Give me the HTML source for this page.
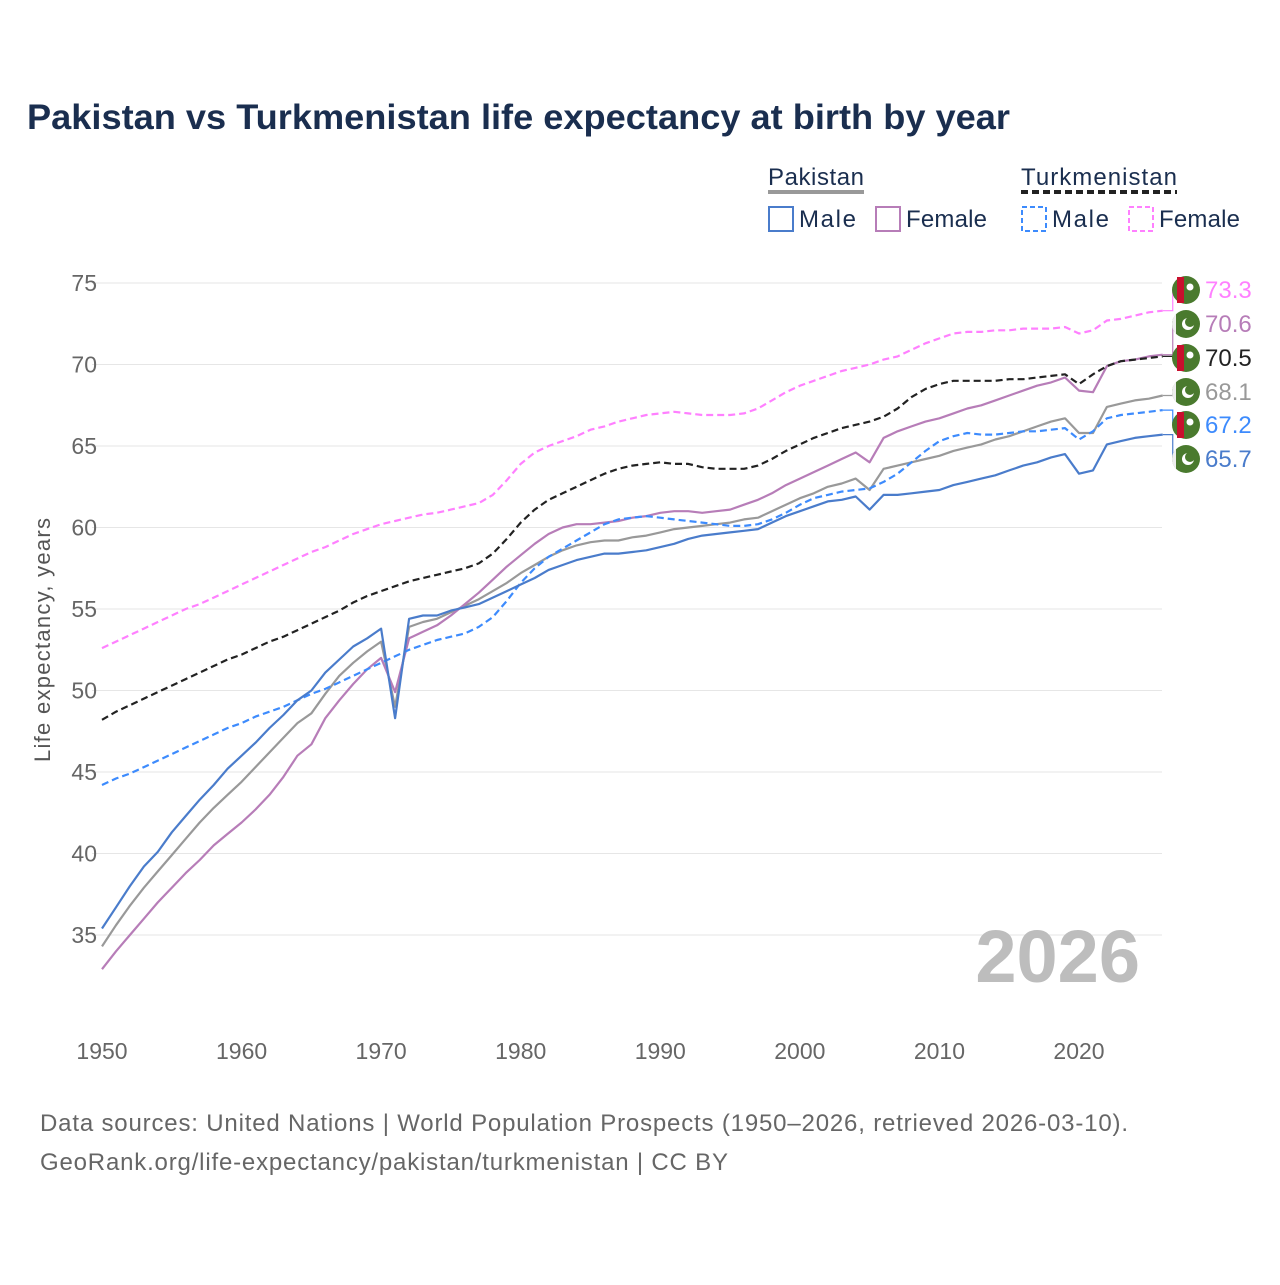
<!DOCTYPE html>
<html><head><meta charset="utf-8">
<style>
body{margin:0;background:#fff;font-family:"Liberation Sans",sans-serif;}
svg text{font-family:"Liberation Sans",sans-serif;}
</style></head>
<body>
<svg id="chart" width="1280" height="1280" viewBox="0 0 1280 1280" xmlns="http://www.w3.org/2000/svg">
<rect width="1280" height="1280" fill="#fff"/>
<text x="27" y="129" font-size="35" font-weight="bold" fill="#1a2e4f" textLength="983" lengthAdjust="spacingAndGlyphs">Pakistan vs Turkmenistan life expectancy at birth by year</text>
<g font-size="24" fill="#1a2e4f">
<text x="768" y="185" fill="#1a2e4f" textLength="96">Pakistan</text>
<line x1="768" y1="192" x2="864" y2="192" stroke="#999" stroke-width="4"/>
<rect x="769" y="207" width="24" height="24" fill="none" stroke="#4a7ccb" stroke-width="2"/>
<text x="799" y="227" fill="#1a2e4f" textLength="57">Male</text>
<rect x="876" y="207" width="24" height="24" fill="none" stroke="#b77db8" stroke-width="2"/>
<text x="906" y="227" fill="#1a2e4f" textLength="81">Female</text>
<text x="1021" y="185" fill="#1a2e4f" textLength="156">Turkmenistan</text>
<line x1="1021" y1="192" x2="1177" y2="192" stroke="#222" stroke-width="4" stroke-dasharray="7,4"/>
<rect x="1022" y="207" width="24" height="24" fill="none" stroke="#3d8bfd" stroke-width="2" stroke-dasharray="5,3"/>
<text x="1052" y="227" fill="#1a2e4f" textLength="57">Male</text>
<rect x="1129" y="207" width="24" height="24" fill="none" stroke="#ff80ff" stroke-width="2" stroke-dasharray="5,3"/>
<text x="1159" y="227" fill="#1a2e4f" textLength="81">Female</text>
</g>
<g id="grid"></g>
<g id="xaxis"></g>
<g id="lines"></g>
<g id="labels"></g>
<text transform="translate(50,640) rotate(-90)" text-anchor="middle" font-size="22" fill="#555" textLength="244">Life expectancy, years</text>
<text x="1140" y="982" text-anchor="end" font-size="74" font-weight="bold" fill="#bdbdbd">2026</text>
<text x="40" y="1131" font-size="24" fill="#666" textLength="1088">Data sources: United Nations | World Population Prospects (1950–2026, retrieved 2026-03-10).</text>
<text x="40" y="1170" font-size="24" fill="#666" textLength="688">GeoRank.org/life-expectancy/pakistan/turkmenistan | CC BY</text>
</svg>
<script>
const startYear = 1950;
const yTicks = [35,40,45,50,55,60,65,70,75];
const xTicks = [1950,1960,1970,1980,1990,2000,2010,2020];
const pakMale = [35.4,36.7,38.0,39.2,40.1,41.3,42.3,43.3,44.2,45.2,46.0,46.8,47.7,48.5,49.4,50.0,51.1,51.9,52.7,53.2,53.8,48.3,54.4,54.6,54.6,54.9,55.1,55.3,55.7,56.1,56.5,56.9,57.4,57.7,58.0,58.2,58.4,58.4,58.5,58.6,58.8,59.0,59.3,59.5,59.6,59.7,59.8,59.9,60.3,60.7,61.0,61.3,61.6,61.7,61.9,61.1,62.0,62.0,62.1,62.2,62.3,62.6,62.8,63.0,63.2,63.5,63.8,64.0,64.3,64.5,63.3,63.5,65.1,65.3,65.5,65.6,65.7];
const pakBoth = [34.3,35.6,36.8,37.9,38.9,39.9,40.9,41.9,42.8,43.6,44.4,45.3,46.2,47.1,48.0,48.6,49.8,50.9,51.7,52.4,53.0,49.0,53.9,54.2,54.4,54.8,55.2,55.6,56.1,56.6,57.2,57.7,58.2,58.6,58.9,59.1,59.2,59.2,59.4,59.5,59.7,59.9,60.0,60.1,60.2,60.3,60.5,60.6,61.0,61.4,61.8,62.1,62.5,62.7,63.0,62.3,63.6,63.8,64.0,64.2,64.4,64.7,64.9,65.1,65.4,65.6,65.9,66.2,66.5,66.7,65.8,65.8,67.4,67.6,67.8,67.9,68.1];
const pakFemale = [32.9,34.0,35.0,36.0,37.0,37.9,38.8,39.6,40.5,41.2,41.9,42.7,43.6,44.7,46.0,46.7,48.3,49.4,50.4,51.3,52.0,49.9,53.2,53.6,54.0,54.6,55.3,56.0,56.8,57.6,58.3,59.0,59.6,60.0,60.2,60.2,60.3,60.4,60.6,60.7,60.9,61.0,61.0,60.9,61.0,61.1,61.4,61.7,62.1,62.6,63.0,63.4,63.8,64.2,64.6,64.0,65.5,65.9,66.2,66.5,66.7,67.0,67.3,67.5,67.8,68.1,68.4,68.7,68.9,69.2,68.4,68.3,69.9,70.2,70.3,70.5,70.6];
const tkmBoth = [48.2,48.7,49.1,49.5,49.9,50.3,50.7,51.1,51.5,51.9,52.2,52.6,53.0,53.3,53.7,54.1,54.5,54.9,55.4,55.8,56.1,56.4,56.7,56.9,57.1,57.3,57.5,57.8,58.4,59.3,60.3,61.1,61.7,62.1,62.5,62.9,63.3,63.6,63.8,63.9,64.0,63.9,63.9,63.7,63.6,63.6,63.6,63.8,64.2,64.7,65.1,65.5,65.8,66.1,66.3,66.5,66.8,67.3,68.0,68.5,68.8,69.0,69.0,69.0,69.0,69.1,69.1,69.2,69.3,69.4,68.8,69.4,69.9,70.2,70.3,70.4,70.5];
const tkmMale = [44.2,44.6,44.9,45.3,45.7,46.1,46.5,46.9,47.3,47.7,48.0,48.4,48.7,49.0,49.4,49.8,50.1,50.5,50.9,51.3,51.7,52.1,52.5,52.8,53.1,53.3,53.5,53.9,54.5,55.5,56.6,57.5,58.2,58.7,59.2,59.7,60.2,60.5,60.6,60.7,60.6,60.5,60.4,60.3,60.2,60.1,60.1,60.2,60.5,60.9,61.4,61.8,62.0,62.2,62.3,62.4,62.8,63.3,64.0,64.7,65.3,65.6,65.8,65.7,65.7,65.8,65.9,65.9,66.0,66.1,65.4,65.9,66.7,66.9,67.0,67.1,67.2];
const tkmFemale = [52.6,53.0,53.4,53.8,54.2,54.6,55.0,55.3,55.7,56.1,56.5,56.9,57.3,57.7,58.1,58.5,58.8,59.2,59.6,59.9,60.2,60.4,60.6,60.8,60.9,61.1,61.3,61.5,62.0,62.9,63.9,64.6,65.0,65.3,65.6,66.0,66.2,66.5,66.7,66.9,67.0,67.1,67.0,66.9,66.9,66.9,67.0,67.3,67.8,68.3,68.7,69.0,69.3,69.6,69.8,70.0,70.3,70.5,70.9,71.3,71.6,71.9,72.0,72.0,72.1,72.1,72.2,72.2,72.2,72.3,71.9,72.1,72.7,72.8,73.0,73.2,73.3];

const NS = "http://www.w3.org/2000/svg";
const X = yr => 102 + (yr - 1950) * (1079 - 102) / 70;
const Y = v => 283 + (75 - v) * (935 - 283) / 40;
function mk(tag, attrs, parent){const e=document.createElementNS(NS,tag);for(const k in attrs)e.setAttribute(k,attrs[k]);parent.appendChild(e);return e;}
const grid=document.getElementById('grid'), xa=document.getElementById('xaxis'), lines=document.getElementById('lines'), labels=document.getElementById('labels');
yTicks.forEach(t=>{
  const l=mk('line',{x1:92,x2:1162,y1:Y(t),y2:Y(t),stroke:'#e6e6e6','stroke-width':1},grid);
  
  
  const tx=mk('text',{x:97,y:Y(t)+8,'text-anchor':'end','font-size':23,fill:'#666'},grid);
  tx.textContent=t;
  
  
});
xTicks.forEach(t=>{
  const tx=mk('text',{x:X(t),y:1059,'text-anchor':'middle','font-size':23,fill:'#666'},xa);
  tx.textContent=t;
  
  
});
const series=[
  {name:'tkm-female',d:tkmFemale,c:'#ff80ff',dash:'7,4',flag:'tkm',ly:290},
  {name:'pak-female',d:pakFemale,c:'#b77db8',dash:null,flag:'pak',ly:324},
  {name:'tkm-both',d:tkmBoth,c:'#222',dash:'7,4',flag:'tkm',ly:358},
  {name:'pak-both',d:pakBoth,c:'#999',dash:null,flag:'pak',ly:392},
  {name:'tkm-male',d:tkmMale,c:'#3d8bfd',dash:'7,4',flag:'tkm',ly:425},
  {name:'pak-male',d:pakMale,c:'#4a7ccb',dash:null,flag:'pak',ly:459},
];
[3,1,0,2,4,5].forEach(i=>{
  const s=series[i];
  const pts=s.d.map((v,j)=>X(startYear+j).toFixed(1)+','+Y(v).toFixed(1)).join(' ');
  const attrs={points:pts,fill:'none',stroke:s.c,'stroke-width':2.2,'stroke-linejoin':'round'};
  if(s.dash)attrs['stroke-dasharray']=s.dash;
  const p=mk('polyline',attrs,lines);
  
  
});
series.forEach(s=>{
  const last=s.d[s.d.length-1], ex=X(startYear+s.d.length-1), ey=Y(last);
  const br=mk('polyline',{points:`${ex},${ey} ${ex+10},${ey} ${ex+10},${s.ly} ${ex+14},${s.ly}`,fill:'none',stroke:s.c,'stroke-width':1.2},labels);
  
  
  const g=mk('g',{},labels);
  
  
  const cx=1186, cy=s.ly;
  if(s.flag==='pak'){
    mk('circle',{cx,cy,r:14,fill:'#4a7a2e'},g);
    mk('path',{d:`M${cx-14},${cy} a14,14 0 0,1 4,-10 v20 a14,14 0 0,1 -4,-10z`,fill:'#eee'},g);
    mk('circle',{cx:cx+2,cy,r:6,fill:'#fff'},g);
    mk('circle',{cx:cx+4,cy:cy-2,r:5,fill:'#4a7a2e'},g);
  } else {
    mk('circle',{cx,cy,r:14,fill:'#4a7a2e'},g);
    mk('rect',{x:cx-9,y:cy-13,width:7,height:26,fill:'#c8102e'},g);
    mk('circle',{cx:cx+4,cy:cy-3,r:3.5,fill:'#fff'},g);
  }
  const t=mk('text',{x:1205,y:s.ly+8,'font-size':24,fill:s.c},labels);
  t.textContent=last.toFixed(1);
  
  
});
</script>
</body></html>
